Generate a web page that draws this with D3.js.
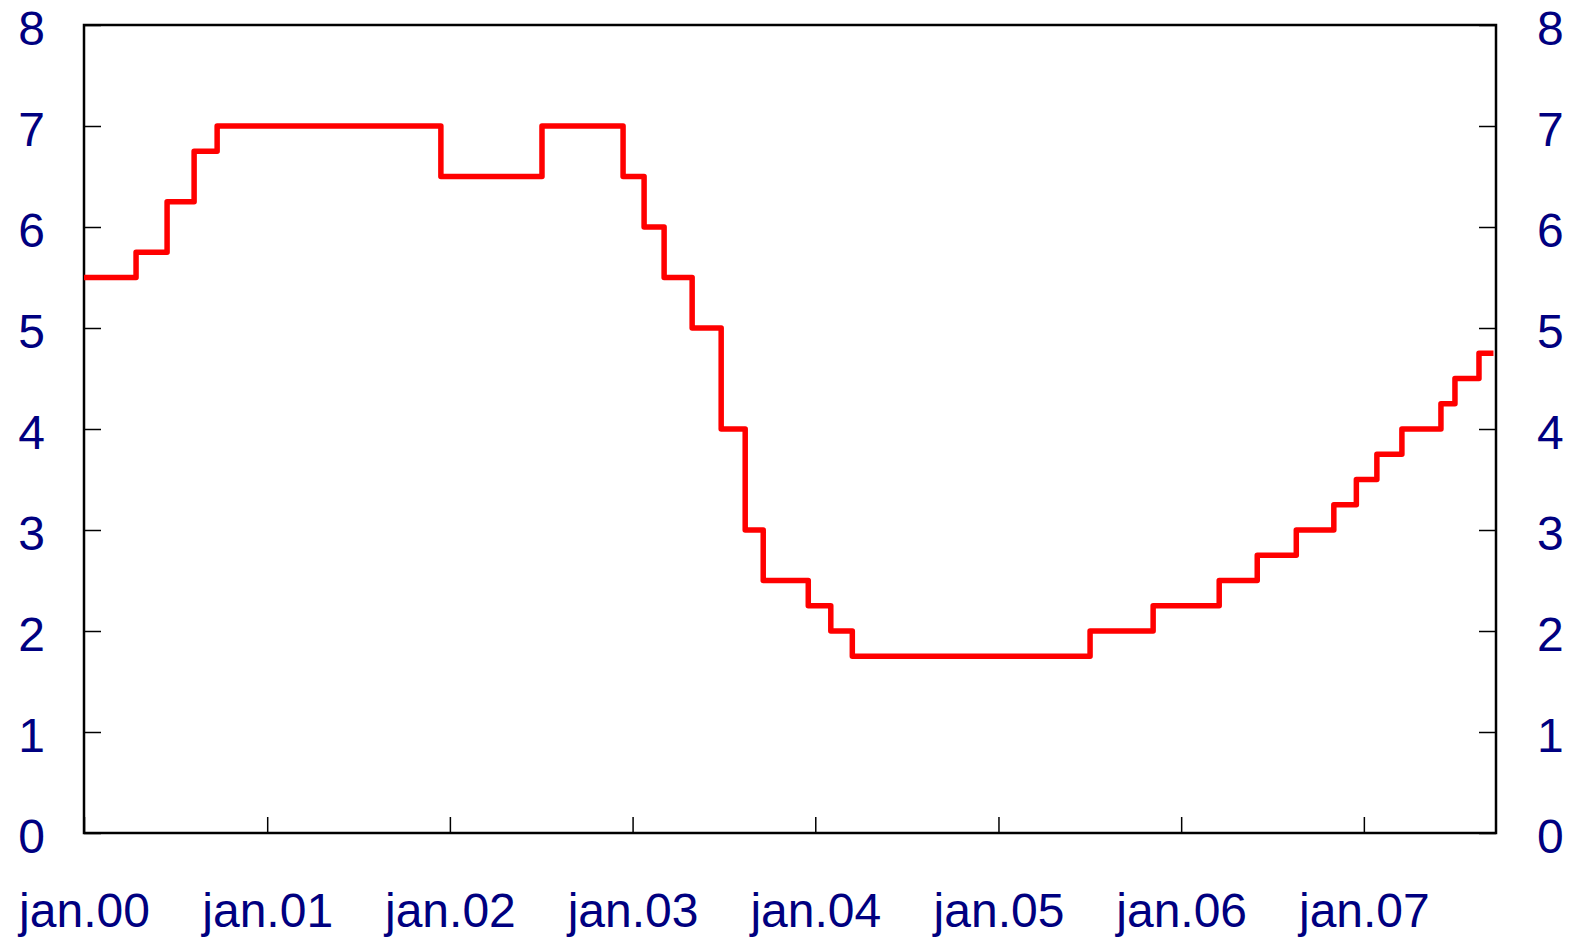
<!DOCTYPE html>
<html>
<head>
<meta charset="utf-8">
<script src="https://cdn.jsdelivr.net/npm/d3@7"></script>
<style>
  html, body { margin: 0; padding: 0; background: #fff; }
  svg { display: block; }
  .tick text { font-family: "Liberation Sans", Arial, sans-serif; font-size: 48px; fill: #000080; }
</style>
</head>
<body>
<svg id="chart" width="1574" height="939"></svg>
<script>
// Data: date of each rate change and new rate (percent)
const changeDates = [
  "2000-01-01", "2000-04-14", "2000-06-15", "2000-08-08", "2000-09-23",
  "2001-12-14", "2002-07-04", "2002-12-13", "2003-01-24", "2003-03-05",
  "2003-04-30", "2003-06-27", "2003-08-14", "2003-09-19", "2003-12-18",
  "2004-02-01", "2004-03-15", "2005-07-03", "2005-11-06", "2006-03-18",
  "2006-06-02", "2006-08-19", "2006-11-02", "2006-12-17", "2007-01-27",
  "2007-03-18", "2007-06-04", "2007-07-02", "2007-08-19", "2007-09-17"
];
const rates = [
  5.5, 5.75, 6.25, 6.75, 7.0,
  6.5, 7.0, 6.5, 6.0, 5.5,
  5.0, 4.0, 3.0, 2.5, 2.25,
  2.0, 1.75, 2.0, 2.25, 2.5,
  2.75, 3.0, 3.25, 3.5, 3.75,
  4.0, 4.25, 4.5, 4.75, 4.75
];
const yTicks = [0, 1, 2, 3, 4, 5, 6, 7, 8];
const xTickDates = ["2000-01-01", "2001-01-01", "2002-01-01", "2003-01-01",
                    "2004-01-01", "2005-01-01", "2006-01-01", "2007-01-01"];
const xDomain = ["2000-01-01", "2007-09-22"];

(function () {
  const parse = d3.utcParse("%Y-%m-%d");
  const data = changeDates.map((d, i) => ({ date: parse(d), value: rates[i] }));

  const mLeft = 84, mRight = 1496, mTop = 25, mBottom = 833;
  const svg = d3.select("#chart");

  const x = d3.scaleUtc().domain(xDomain.map(parse)).range([mLeft, mRight]);
  const y = d3.scaleLinear().domain([0, 8]).range([mBottom, mTop]);

  const navy = "#000080";

  // Frame
  svg.append("rect")
    .attr("x", mLeft).attr("y", mTop)
    .attr("width", mRight - mLeft).attr("height", mBottom - mTop)
    .attr("fill", "none").attr("stroke", "#000").attr("stroke-width", 2.5);

  const gl = svg.append("g").attr("transform", `translate(${mLeft},0)`)
    .call(d3.axisLeft(y).tickValues(yTicks).tickFormat(d3.format("d"))
      .tickSize(-17).tickPadding(39));
  const gr = svg.append("g").attr("transform", `translate(${mRight},0)`)
    .call(d3.axisRight(y).tickValues(yTicks).tickFormat(d3.format("d"))
      .tickSize(-17).tickPadding(41));
  const fmt = d3.utcFormat("%y");
  const gb = svg.append("g").attr("transform", `translate(0,${mBottom})`)
    .call(d3.axisBottom(x).tickValues(xTickDates.map(parse))
      .tickFormat(d => "jan." + fmt(d))
      .tickSize(-16).tickPadding(60));

  [gl, gr, gb].forEach(g => {
    g.select(".domain").remove();
    g.selectAll(".tick line").attr("stroke", "#000").attr("stroke-width", 1.5);
    g.selectAll(".tick text").attr("fill", navy);
  });
  gl.selectAll(".tick text").attr("dy", "0.40em");
  gr.selectAll(".tick text").attr("dy", "0.40em");

  const line = d3.line()
    .x(d => x(d.date))
    .y(d => y(d.value))
    .curve(d3.curveStepAfter);

  svg.append("path")
    .datum(data)
    .attr("d", line)
    .attr("fill", "none")
    .attr("stroke", "#ff0000")
    .attr("stroke-width", 5.5)
    .attr("stroke-linejoin", "round");
})();
</script>
</body>
</html>
